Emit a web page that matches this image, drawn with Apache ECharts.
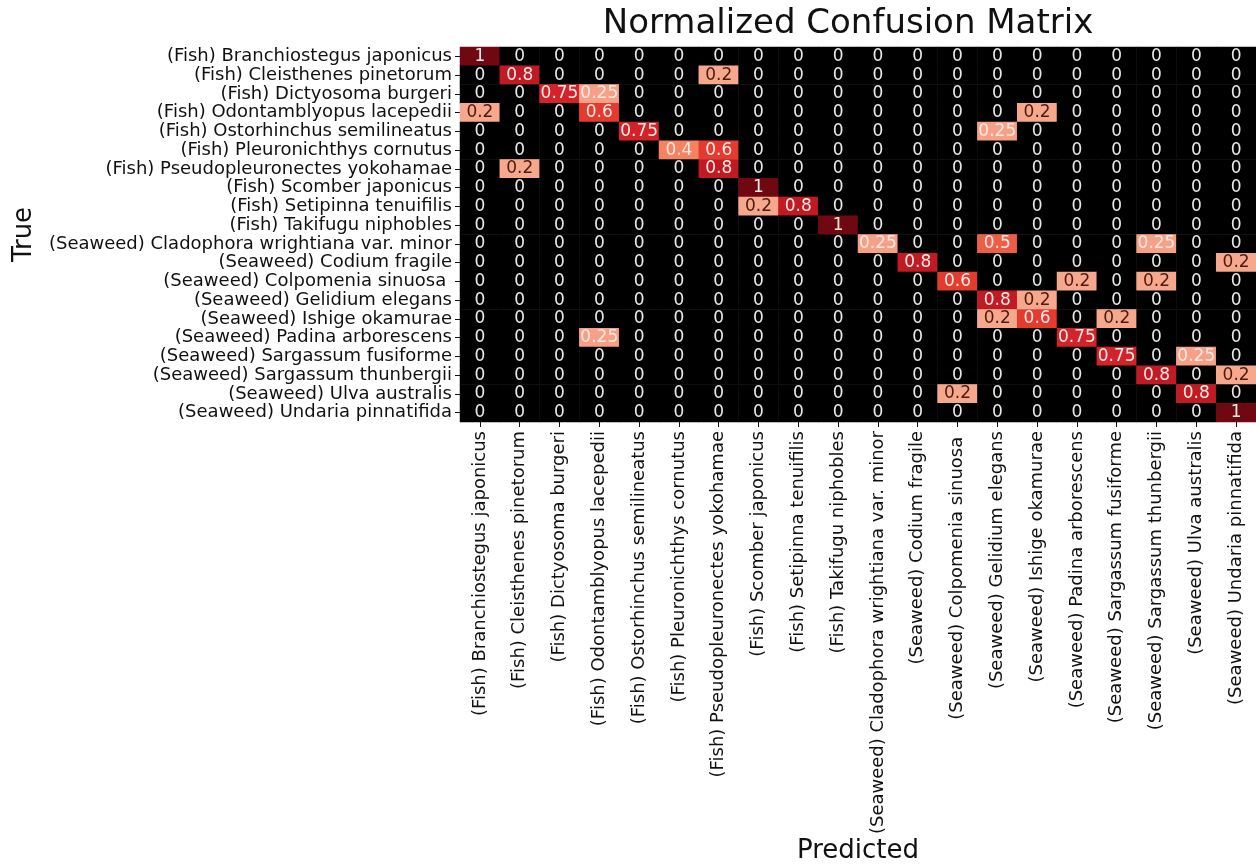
<!DOCTYPE html>
<html>
<head>
<meta charset="utf-8">
<script src="https://cdn.jsdelivr.net/npm/echarts@6/dist/echarts.min.js"></script>
<style>
html,body{margin:0;padding:0;background:#fff;}
#chart{width:1256px;height:867px;}
</style>
</head>
<body>
<div id="chart"></div>
<script>
const classes = [
  "(Fish) Branchiostegus japonicus",
  "(Fish) Cleisthenes pinetorum",
  "(Fish) Dictyosoma burgeri",
  "(Fish) Odontamblyopus lacepedii",
  "(Fish) Ostorhinchus semilineatus",
  "(Fish) Pleuronichthys cornutus",
  "(Fish) Pseudopleuronectes yokohamae",
  "(Fish) Scomber japonicus",
  "(Fish) Setipinna tenuifilis",
  "(Fish) Takifugu niphobles",
  "(Seaweed) Cladophora wrightiana var. minor",
  "(Seaweed) Codium fragile",
  "(Seaweed) Colpomenia sinuosa ",
  "(Seaweed) Gelidium elegans",
  "(Seaweed) Ishige okamurae",
  "(Seaweed) Padina arborescens",
  "(Seaweed) Sargassum fusiforme",
  "(Seaweed) Sargassum thunbergii",
  "(Seaweed) Ulva australis",
  "(Seaweed) Undaria pinnatifida"
];

// rows = true class, columns = predicted class
const row00 = [1,0,0,0,0,0,0,0,0,0,0,0,0,0,0,0,0,0,0,0];
const row01 = [0,0.8,0,0,0,0,0.2,0,0,0,0,0,0,0,0,0,0,0,0,0];
const row02 = [0,0,0.75,0.25,0,0,0,0,0,0,0,0,0,0,0,0,0,0,0,0];
const row03 = [0.2,0,0,0.6,0,0,0,0,0,0,0,0,0,0,0.2,0,0,0,0,0];
const row04 = [0,0,0,0,0.75,0,0,0,0,0,0,0,0,0.25,0,0,0,0,0,0];
const row05 = [0,0,0,0,0,0.4,0.6,0,0,0,0,0,0,0,0,0,0,0,0,0];
const row06 = [0,0.2,0,0,0,0,0.8,0,0,0,0,0,0,0,0,0,0,0,0,0];
const row07 = [0,0,0,0,0,0,0,1,0,0,0,0,0,0,0,0,0,0,0,0];
const row08 = [0,0,0,0,0,0,0,0.2,0.8,0,0,0,0,0,0,0,0,0,0,0];
const row09 = [0,0,0,0,0,0,0,0,0,1,0,0,0,0,0,0,0,0,0,0];
const row10 = [0,0,0,0,0,0,0,0,0,0,0.25,0,0,0.5,0,0,0,0.25,0,0];
const row11 = [0,0,0,0,0,0,0,0,0,0,0,0.8,0,0,0,0,0,0,0,0.2];
const row12 = [0,0,0,0,0,0,0,0,0,0,0,0,0.6,0,0,0.2,0,0.2,0,0];
const row13 = [0,0,0,0,0,0,0,0,0,0,0,0,0,0.8,0.2,0,0,0,0,0];
const row14 = [0,0,0,0,0,0,0,0,0,0,0,0,0,0.2,0.6,0,0.2,0,0,0];
const row15 = [0,0,0,0.25,0,0,0,0,0,0,0,0,0,0,0,0.75,0,0,0,0];
const row16 = [0,0,0,0,0,0,0,0,0,0,0,0,0,0,0,0,0.75,0,0.25,0];
const row17 = [0,0,0,0,0,0,0,0,0,0,0,0,0,0,0,0,0,0.8,0,0.2];
const row18 = [0,0,0,0,0,0,0,0,0,0,0,0,0.2,0,0,0,0,0,0.8,0];
const row19 = [0,0,0,0,0,0,0,0,0,0,0,0,0,0,0,0,0,0,0,1];

const matrix = [row00,row01,row02,row03,row04,row05,row06,row07,row08,row09,
                row10,row11,row12,row13,row14,row15,row16,row17,row18,row19];

const data = [];
matrix.forEach((row, i) => row.forEach((v, j) => data.push([j, i, v])));

const FONT = "'DejaVu Sans', sans-serif";
const chart = echarts.init(document.getElementById('chart'));
chart.setOption({
  backgroundColor: '#ffffff',
  animation: false,
  title: {
    text: 'Normalized Confusion Matrix',
    left: 843,
    top: 2,
    textAlign: 'center',
    textStyle: {fontFamily: FONT, fontSize: 34, fontWeight: 'normal', color: '#111'}
  },
  grid: {left: 460, top: 47, width: 800, height: 375, containLabel: false},
  xAxis: {
    type: 'category',
    data: classes,
    position: 'bottom',
    name: 'Predicted',
    nameLocation: 'middle',
    nameGap: 413,
    nameTextStyle: {fontFamily: FONT, fontSize: 26, color: '#111'},
    axisLine: {show: false},
    axisTick: {show: true, alignWithLabel: true, length: 5, lineStyle: {color: '#111'}},
    axisLabel: {rotate: 90, interval: 0, fontFamily: FONT, fontSize: 18, color: '#111', margin: 9},
    splitLine: {show: false}
  },
  yAxis: {
    type: 'category',
    data: classes,
    inverse: true,
    name: 'True',
    nameLocation: 'middle',
    nameGap: 423,
    nameRotate: 90,
    nameTextStyle: {fontFamily: FONT, fontSize: 26, color: '#111'},
    axisLine: {show: false},
    axisTick: {show: true, alignWithLabel: true, length: 5, lineStyle: {color: '#111'}},
    axisLabel: {interval: 0, fontFamily: FONT, fontSize: 18, color: '#111', margin: 8},
    splitLine: {show: false}
  },
  visualMap: {
    show: false,
    type: 'piecewise',
    dimension: 2,
    pieces: [
      {lte: 0, color: '#000000'},
      {gt: 0, lte: 0.2, color: '#f6a88d'},
      {gt: 0.2, lte: 0.3, color: '#f8a085'},
      {gt: 0.3, lte: 0.45, color: '#f7825f'},
      {gt: 0.45, lte: 0.55, color: '#ee5d46'},
      {gt: 0.55, lte: 0.65, color: '#e53b2f'},
      {gt: 0.65, lte: 0.77, color: '#d3232a'},
      {gt: 0.77, lte: 0.9, color: '#c11a22'},
      {gt: 0.9, color: '#700812'}
    ]
  },
  series: [{
    type: 'heatmap',
    data: data,
    label: {
      show: true,
      fontFamily: FONT,
      fontSize: 17,
      formatter: function (p) {
        const v = p.value[2];
        if (v === 0) return '{z|0}';
        if (v <= 0.2) return '{d|' + v + '}';
        return '{w|' + v + '}';
      },
      rich: {
        z: {color: '#e8e8e8', fontFamily: FONT, fontSize: 17},
        d: {color: '#4d1a0e', fontFamily: FONT, fontSize: 17},
        w: {color: '#fbeae6', fontFamily: FONT, fontSize: 17}
      }
    },
    itemStyle: {borderWidth: 0},
    emphasis: {disabled: true}
  }]
});
</script>
</body>
</html>
